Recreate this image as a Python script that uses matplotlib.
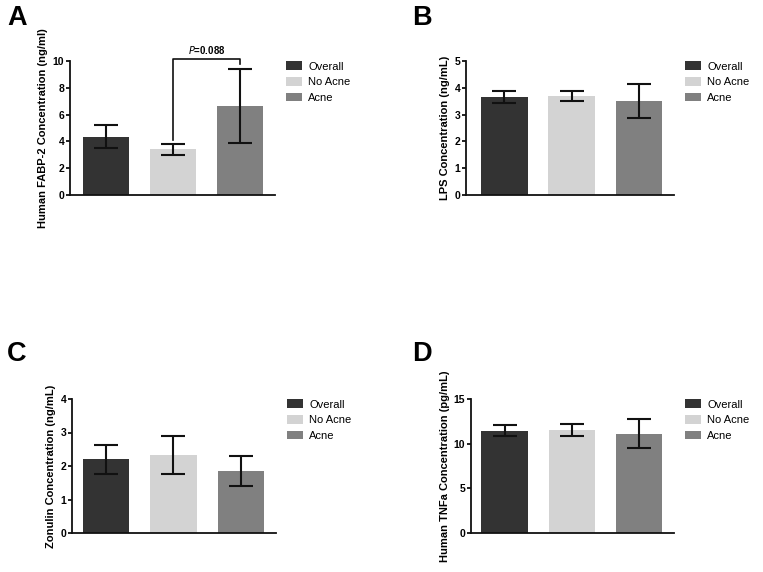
import matplotlib
matplotlib.use('Agg')
import matplotlib.pyplot as plt

# groups and colours
groups = ['Overall', 'No Acne', 'Acne']
colors = ['#333333', '#d3d3d3', '#808080']

# A: Human FABP-2 (ng/ml)
fabp_mean = [4.35, 3.4, 6.65]
fabp_err = [0.87, 0.38, 2.75]
# B: LPS (ng/mL)
lps_mean = [3.65, 3.7, 3.52]
lps_err = [0.22, 0.19, 0.63]
# C: Zonulin (ng/mL)
zon_mean = [2.2, 2.33, 1.85]
zon_err = [0.43, 0.56, 0.45]
# D: Human TNFa (pg/mL)
tnf_mean = [11.45, 11.55, 11.1]
tnf_err = [0.62, 0.65, 1.62]

p_text = '$\\mathbf{\\it{P}}$=0.088'

W, H = 763, 572
fig = plt.figure(figsize=(W / 100, H / 100), dpi=100)
plt.rcParams['font.family'] = ['Liberation Sans', 'DejaVu Sans']


def make_axes(left, top, right, bottom):
    return fig.add_axes([left / W, 1 - bottom / H, (right - left) / W, (bottom - top) / H])


def panel(ax, means, errs, ymax, ystep, ylabel, xleft):
    x = range(len(groups))
    bars = ax.bar(x, means, width=0.69, color=colors, label=groups, zorder=2)
    ax.errorbar(x, means, yerr=errs, fmt='none', ecolor='#111111', elinewidth=1.5,
                capsize=8.3, capthick=1.5, zorder=3)
    ax.set_xlim(xleft, 2.52)
    ax.set_ylim(0, ymax)
    ax.set_yticks([i * ystep for i in range(int(round(ymax / ystep)) + 1)])
    ax.set_xticks([])
    for s in ['top', 'right']:
        ax.spines[s].set_visible(False)
    for s in ['left', 'bottom']:
        ax.spines[s].set_linewidth(1.3)
        ax.spines[s].set_color('#111111')
    ax.tick_params(axis='y', length=3.2, width=1.3, labelsize=7.5, pad=1, color='#111111')
    for t in ax.get_yticklabels():
        t.set_fontweight('bold')
    ax.set_ylabel(ylabel, fontsize=8, fontweight='bold', labelpad=3)
    ax.legend(bars, groups, loc='upper left', bbox_to_anchor=(1.03, 1.03), frameon=False,
              fontsize=8, handlelength=1.45, handleheight=0.8, handletextpad=0.6,
              labelspacing=0.5, borderaxespad=0)


axA = make_axes(70, 61, 275, 195)
panel(axA, fabp_mean, fabp_err, 10, 2, 'Human FABP-2 Concentration (ng/ml)', -0.535)
# significance bracket between No Acne and Acne
axA.plot([1, 1, 2, 2], [4.1, 10.15, 10.15, 9.8], color='#111111', lw=1.2, clip_on=False)
axA.text(1.5, 10.35, p_text, ha='center', va='bottom', fontsize=7, fontweight='bold')

axB = make_axes(466, 61, 674, 195)
panel(axB, lps_mean, lps_err, 5, 1, 'LPS Concentration (ng/mL)', -0.57)

axC = make_axes(72, 399, 276, 533)
panel(axC, zon_mean, zon_err, 4, 1, 'Zonulin Concentration (ng/mL)', -0.505)

axD = make_axes(471, 399, 674, 533)
panel(axD, tnf_mean, tnf_err, 15, 5, 'Human TNFa Concentration (pg/mL)', -0.5)

for lbl, px, py in [('A', 7, 25), ('B', 412, 25), ('C', 7, 361), ('D', 412, 361)]:
    fig.text(px / W, 1 - py / H, lbl, fontsize=19.5, fontweight='bold', ha='left', va='baseline')

fig.savefig('out.png', dpi=100)
